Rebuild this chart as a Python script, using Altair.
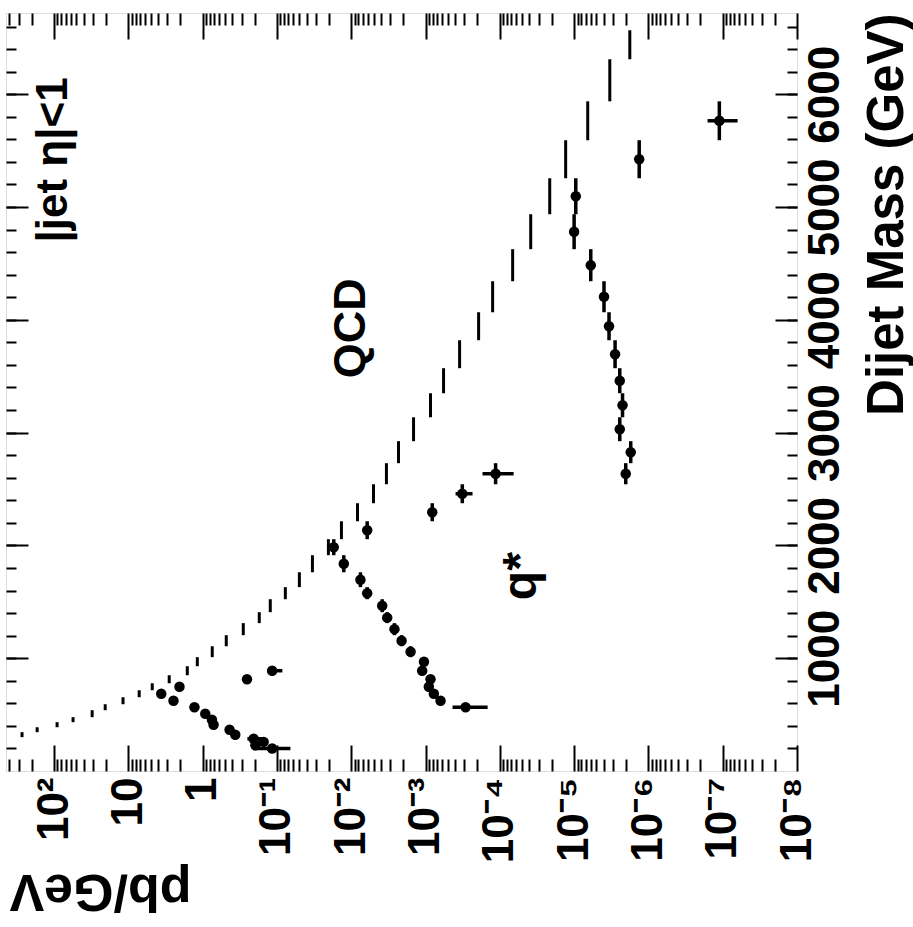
import json
import altair as alt
import pandas as pd

# ---------------- data ----------------
# dijet mass bin edges (GeV)
mass_edges = [184, 214, 244, 272, 300, 344, 388, 433, 477, 539, 592, 654, 716,
              778, 849, 929, 1009, 1106, 1204, 1311, 1408, 1523, 1630, 1762,
              1913, 2055, 2214, 2374, 2542, 2729, 2924, 3136, 3349, 3571, 3819,
              4067, 4342, 4626, 4936, 5255, 5592, 5937, 6310, 6567]

# QCD prediction (pb/GeV), one value per bin starting at bin index 4
qcd_first_bin = 4
qcd_values = [270, 169, 91.1, 55.5, 30.7, 20.5, 11.8, 7.15, 4.77, 2.82, 1.61,
              1.18, 0.743, 0.481, 0.284, 0.173, 0.123, 0.0771, 0.0499, 0.0333,
              0.0203, 0.01355, 0.00824, 0.00502, 0.00336, 0.00231, 0.00145,
              8.57e-4, 5.72e-4, 3.48e-4, 1.93e-4, 1.25e-4, 6.72e-5, 3.84e-5,
              2.13e-5, 1.30e-5, 6.56e-6, 3.31e-6, 1.78e-6]

# excited quark signals (pb/GeV)
qstar1_first_bin = 0
qstar1_values = [0.116, 0.195, 0.151, 0.206, 0.364, 0.434, 0.713, 0.75, 0.922,
                 1.29, 2.47, 3.61, 2.05, 0.253, 0.116]
qstar2_first_bin = 9
qstar2_values = [2.89e-4, 6.28e-4, 7.73e-4, 9.03e-4, 8.57e-4, 1.11e-3, 1.05e-3,
                 1.59e-3, 2.10e-3, 2.62e-3, 3.28e-3, 3.83e-3, 6.1e-3, 7.52e-3,
                 0.0126, 0.0172, 6.1e-3, 8.12e-4, 3.2e-4, 1.14e-4]
qstar3_first_bin = 28
qstar3_values = [2.02e-6, 1.73e-6, 2.43e-6, 2.23e-6, 2.43e-6, 2.81e-6, 3.39e-6,
                 3.96e-6, 5.97e-6, 1.0e-5, 9.5e-6, 1.33e-6, 1.11e-7]

# visible horizontal error bars on signal points
err_bins = [0, 3, 14, 9, 27, 28, 40]
err_lo = [0.0659, 0.152, 0.0845, 1.46e-4, 2.33e-4, 6.52e-5, 6.3e-8]
err_hi = [0.208, 0.25, 0.135, 4.33e-4, 3.94e-4, 1.71e-4, 1.6e-7]

# axis ticks / labels
pb_major = [1e2, 1e1, 1e0, 1e-1, 1e-2, 1e-3, 1e-4, 1e-5, 1e-6, 1e-7, 1e-8]
pb_labels = ["10²", "10", "1", "10⁻¹", "10⁻²", "10⁻³", "10⁻⁴", "10⁻⁵",
             "10⁻⁶", "10⁻⁷", "10⁻⁸"]
pb_minor = [k * 10.0 ** d for d in range(-9, 3) for k in range(2, 10)
            if 1e-8 < k * 10.0 ** d < 440]
mass_major = [1000, 2000, 3000, 4000, 5000, 6000]
mass_minor = list(range(200, 6800, 200))

# ---------------- tables ----------------
def bins_table(first, values):
    rows = []
    for i, v in enumerate(values):
        b = first + i
        lo, hi = mass_edges[b], mass_edges[b + 1]
        rows.append({"m_lo": lo, "m_hi": hi, "m": (lo + hi) / 2, "val": v})
    return pd.DataFrame(rows)

qcd = bins_table(qcd_first_bin, qcd_values)
qstar = pd.concat([bins_table(qstar1_first_bin, qstar1_values),
                   bins_table(qstar2_first_bin, qstar2_values),
                   bins_table(qstar3_first_bin, qstar3_values)],
                  ignore_index=True)
errs = pd.DataFrame({
    "m": [(mass_edges[b] + mass_edges[b + 1]) / 2 for b in err_bins],
    "lo": err_lo, "hi": err_hi})

FONT = "Liberation Sans"
W, H = 791, 758
xscale = alt.Scale(type="log", domain=[1e-8, 443.6], reverse=True, nice=False)
yscale = alt.Scale(domain=[0, 6720], nice=False, zero=False)

label_expr = (json.dumps(pb_labels, ensure_ascii=False)
              + "[2 - round(log(datum.value)/LN10)]")

common = dict(domain=False, grid=False, tickColor="black", tickWidth=2)

ax_x_major = alt.Axis(orient="bottom", values=pb_major, offset=-26, tickSize=26,
                      labelExpr=label_expr, labelAngle=270, labelAlign="right",
                      labelBaseline="middle", labelPadding=6, labelFontSize=44,
                      labelFont=FONT, labelFontWeight="bold", labelColor="black",
                      labelFlush=False, labelOverlap=False,
                      title="pb/GeV", titleAngle=180, titleX=94, titleY=145,
                      titleAlign="center", titleBaseline="middle",
                      titleFontSize=52, titleFont=FONT, titleFontWeight="bold",
                      titleColor="black", **common)
ax_x_minor = alt.Axis(orient="bottom", values=pb_minor, offset=-12, tickSize=12,
                      labels=False, title=None, **common)
ax_x_top_major = alt.Axis(orient="top", values=pb_major, offset=-26, tickSize=26,
                          labels=False, title=None, **common)
ax_x_top_minor = alt.Axis(orient="top", values=pb_minor, offset=-12, tickSize=12,
                          labels=False, title=None, **common)

ax_y_major = alt.Axis(orient="right", values=mass_major, offset=-22, tickSize=22,
                      format="d",
                      labelAngle=270, labelAlign="center", labelBaseline="top",
                      labelPadding=6, labelFontSize=44, labelFont=FONT,
                      labelFontWeight="bold", labelColor="black",
                      labelFlush=False, labelOverlap=False,
                      title="Dijet Mass (GeV)", titleAngle=270, titleX=87,
                      titleY=0, titleAlign="right", titleBaseline="top",
                      titleFontSize=51, titleFont=FONT, titleFontWeight="bold",
                      titleColor="black", **common)
ax_y_minor = alt.Axis(orient="right", values=mass_minor, offset=-10, tickSize=10,
                      labels=False, title=None, **common)
ax_y_left_major = alt.Axis(orient="left", values=mass_major, offset=-22,
                           tickSize=22, labels=False, title=None, **common)
ax_y_left_minor = alt.Axis(orient="left", values=mass_minor, offset=-10,
                           tickSize=10, labels=False, title=None, **common)

qcd_layer = alt.Chart(qcd).mark_rule(color="black", strokeWidth=3).encode(
    x=alt.X("val:Q", scale=xscale, axis=ax_x_major),
    y=alt.Y("m_lo:Q", scale=yscale, axis=ax_y_major),
    y2="m_hi:Q",
)
vbar_layer = alt.Chart(qstar).mark_rule(color="black", strokeWidth=3.5).encode(
    x=alt.X("val:Q", scale=xscale, axis=ax_x_minor),
    y=alt.Y("m_lo:Q", scale=yscale, axis=ax_y_minor),
    y2="m_hi:Q",
)
hbar_layer = alt.Chart(errs).mark_rule(color="black", strokeWidth=3.5).encode(
    x=alt.X("lo:Q", scale=xscale, axis=ax_x_top_major),
    x2="hi:Q",
    y=alt.Y("m:Q", scale=yscale, axis=ax_y_left_major),
)
pt_layer = alt.Chart(qstar).mark_point(shape="circle", filled=True, size=110,
                                       color="black", opacity=1).encode(
    x=alt.X("val:Q", scale=xscale, axis=ax_x_top_minor),
    y=alt.Y("m:Q", scale=yscale, axis=ax_y_left_minor),
)

def annot(text, val, mass, size):
    df = pd.DataFrame({"t": [text], "val": [val], "m": [mass]})
    return alt.Chart(df).mark_text(angle=270, align="right",
                                   baseline="alphabetic", font=FONT,
                                   fontWeight="bold", fontSize=size,
                                   color="black").encode(
        x=alt.X("val:Q", scale=xscale, axis=None),
        y=alt.Y("m:Q", scale=yscale, axis=None),
        text="t:N",
    )

chart = alt.layer(
    qcd_layer, vbar_layer, hbar_layer, pt_layer,
    annot("|jet η|<1", 66.8, 6150, 44),
    annot("QCD", 6.44e-3, 4369, 45),
    annot("q*", 3.3e-5, 1940, 48),
).resolve_axis(x="independent", y="independent").properties(
    width=W, height=H,
    autosize=alt.AutoSizeParams(type="none"),
    padding={"left": 6, "top": 13, "right": 116, "bottom": 156},
).configure_view(stroke="black", strokeWidth=3).configure(background="white")

chart.save("out.html", embed_options={"renderer": "svg", "actions": False})
